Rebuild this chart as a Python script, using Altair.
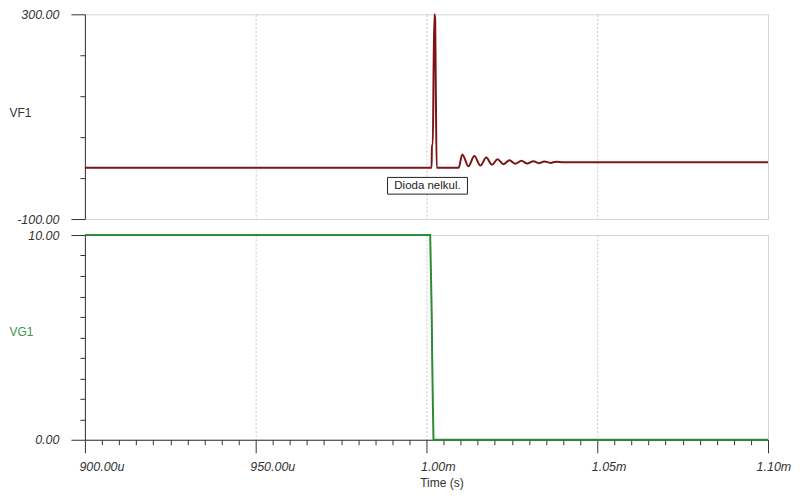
import altair as alt
import pandas as pd

# ---- data (time in microseconds) ----
vf1_time = [900, 1001.5, 1001.6, 1001.85, 1002.1, 1002.35, 1002.55, 1002.7, 1003.0, 1009.4,
            1010.5, 1012.3, 1014.0, 1015.8, 1017.5, 1019.2, 1020.8, 1022.5, 1024.3,
            1026.0, 1027.8, 1029.5, 1031.3, 1032.9, 1034.5, 1036.3, 1038.0,
            1040.0, 1100]
vf1_value = [0, 0, 45, 45, 200, 300, 290, 180, 0, 0,
             26, 3, 23, 4.5, 20, 6, 17, 7, 15,
             8, 14, 8.5, 13, 9, 12.5, 9.7, 12,
             11, 11]

vg1_time = [900, 1001.08, 1001.26, 1001.55, 1001.67, 1001.84, 1002.05, 1100]
vg1_value = [10, 10, 8.6, 6.0, 4.05, 2.1, 0, 0]

ann_time = [1000.3]
ann_value = [-35.0]
ann_text = ["Dioda nelkul."]

x_ticks = list(range(900, 1101, 5))
vf1_ticks = list(range(-100, 301, 40))
vg1_ticks = list(range(0, 11, 1))
x_grid = [950, 1000, 1050]

FONT = "Liberation Sans"
DARK = "#333333"
GRID = "#c8c8c8"
BORDER = "#d4d4d4"
RED = "#7d1518"
GREEN = "#2d8a36"
GREEN_LABEL = "#3f9150"

df_vf1 = pd.DataFrame({"t": vf1_time, "v": vf1_value})
df_vg1 = pd.DataFrame({"t": vg1_time, "v": vg1_value})
df_ann = pd.DataFrame({"t": ann_time, "v": ann_value, "label": ann_text})

xscale = alt.Scale(domain=[900, 1100], nice=False, zero=False)


def y_axis(ticks, lo, hi, title, title_color, title_y):
    test = f"datum.value == {hi} || datum.value == {lo}"
    return alt.Axis(
        values=ticks,
        labelExpr=(f"{test} ? (datum.value < 0 ? '-' + format(-datum.value, '.2f') "
                   f": format(datum.value, '.2f')) : ''"),
        tickSize={"condition": {"test": test, "value": 14}, "value": 5},
        labelPadding=12,
        labelFont=FONT, labelFontSize=12.5, labelFontStyle="italic", labelColor=DARK,
        labelOverlap=False, labelFlush=False,
        domainColor=DARK, tickColor=DARK, grid=False,
        title=title, titleAngle=0, titleAlign="left", titleBaseline="middle",
        titleX=-76, titleY=title_y, titleFont=FONT, titleFontSize=12,
        titleFontWeight="normal", titleColor=title_color,
    )


top_x = alt.X("t:Q", scale=xscale,
              axis=alt.Axis(values=x_grid, labels=False, ticks=False, domain=False,
                            grid=True, gridDash=[2, 2], gridColor=GRID, title=None))

top_line = alt.Chart(df_vf1).mark_line(color=RED, strokeWidth=2, interpolate="monotone").encode(
    x=top_x,
    y=alt.Y("v:Q", scale=alt.Scale(domain=[-100, 300], nice=False, zero=False),
            axis=y_axis(vf1_ticks, -100, 300, "VF1", DARK, 98)),
)

box_path = "M-1,-0.209L1,-0.209L1,0.209L-1,0.209Z"
ann_box = alt.Chart(df_ann).mark_point(
    shape=box_path, size=6400, filled=True, fill="white", stroke="#222222",
    strokeWidth=1, opacity=1, fillOpacity=1, strokeOpacity=1,
).encode(x="t:Q", y="v:Q")
ann_label = alt.Chart(df_ann).mark_text(
    font=FONT, fontSize=11.5, color="#222222", align="center", baseline="middle", dy=0.5
).encode(x="t:Q", y="v:Q", text="label:N")

top = alt.layer(top_line, ann_box, ann_label).properties(width=684, height=205)

major = "datum.value % 50 == 0"
bottom_x = alt.X(
    "t:Q", scale=xscale,
    axis=alt.Axis(
        values=x_ticks,
        labelExpr=(f"{major} ? (datum.value < 1000 ? format(datum.value, '.2f') + 'u' "
                   f": format(datum.value / 1000, '.2f') + 'm') : ''"),
        tickSize={"condition": {"test": major, "value": 13}, "value": 5},
        grid=True, gridDash=[2, 2], gridColor=GRID,
        gridOpacity={"condition": {"test": f"{major} && datum.value > 900 && datum.value < 1100",
                                   "value": 1}, "value": 0},
        labelAlign="left",
        labelOffset={"condition": {"test": "datum.value == 1100", "value": -12}, "value": -6},
        labelBaseline="top", labelPadding=8,
        labelFont=FONT, labelFontSize=12.5, labelFontStyle="italic", labelColor=DARK,
        labelOverlap=False, labelFlush=False,
        domainColor=DARK, tickColor=DARK,
        title="Time (s)", titleFont=FONT, titleFontSize=12, titleFontWeight="normal",
        titleColor=DARK, titleX=357, titleY=47, titleAlign="center",
        titleBaseline="alphabetic",
    ),
)

bottom = alt.Chart(df_vg1).mark_line(color=GREEN, strokeWidth=2).encode(
    x=bottom_x,
    y=alt.Y("v:Q", scale=alt.Scale(domain=[0, 10], nice=False, zero=False),
            axis=y_axis(vg1_ticks, 0, 10, "VG1", GREEN_LABEL, 97)),
).properties(width=684, height=205)

chart = alt.vconcat(top, bottom, spacing=16, bounds="flush").configure_view(
    stroke=BORDER
).properties(
    padding={"left": 0, "top": -1, "right": 0, "bottom": 0},
    background="white",
)

chart.save("out.html", embed_options={"renderer": "svg", "actions": False})
